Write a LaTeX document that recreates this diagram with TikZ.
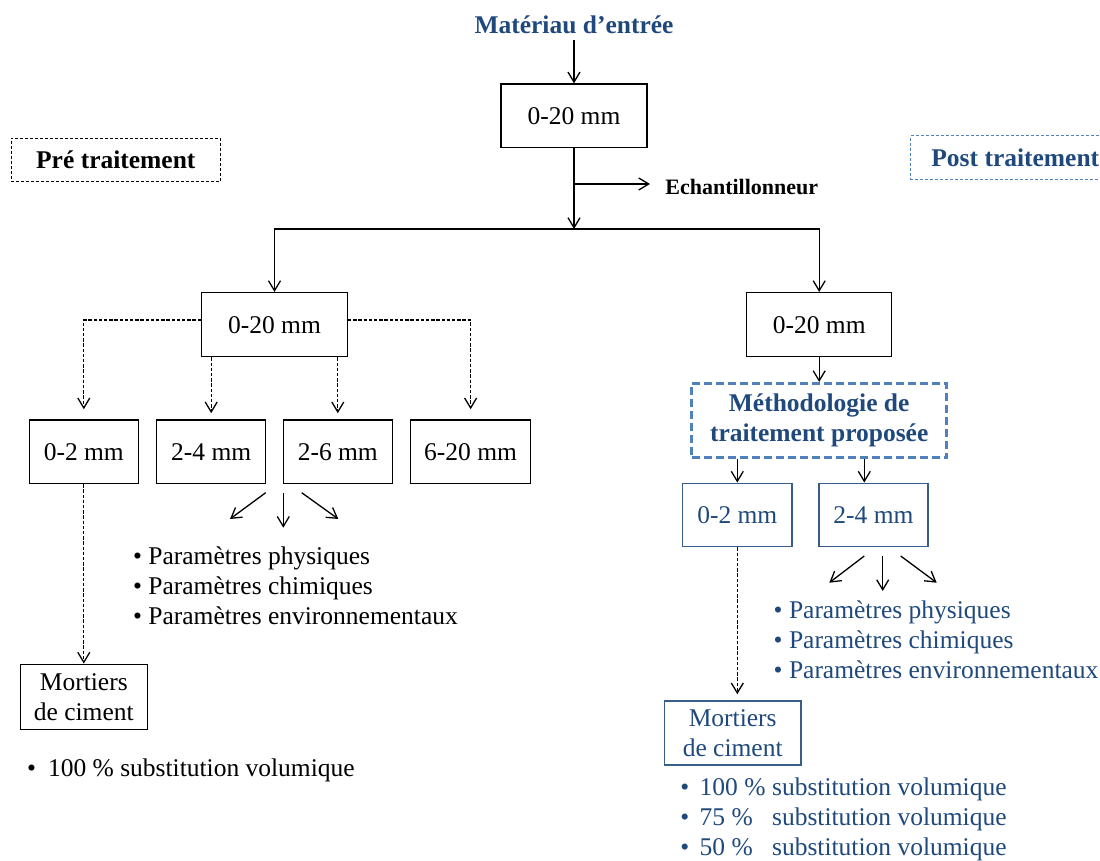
\documentclass[tikz,border=0pt]{standalone}
\usepackage{fontspec}
\setmainfont{Liberation Serif}
\usetikzlibrary{arrows.meta}

\definecolor{inkblue}{RGB}{31,73,125}
\definecolor{dashblue}{RGB}{79,129,189}
\definecolor{frameblue}{RGB}{56,93,138}

\begin{document}
\begin{tikzpicture}[
    x=0.5pt, y=-0.5pt,
    every node/.style={font=\fontsize{12.75}{15}\selectfont},
    sizebox/.style={draw, line width=.75pt, align=center, inner sep=0pt, minimum height=31.7pt},
    bluebox/.style={sizebox, draw=frameblue, text=inkblue},
    tagbox/.style={draw, line width=.5pt, dash pattern=on 1.5pt off 1pt, inner sep=0pt,
        minimum width=104.6pt, minimum height=21.7pt, font=\bfseries\fontsize{12.75}{15}\selectfont},
    methbox/.style={draw=dashblue, line width=1.3pt, dash pattern=on 4pt off 2pt, align=center,
        inner sep=0pt, minimum width=127.5pt, minimum height=37.2pt, text=inkblue,
        font=\bfseries\fontsize{12.75}{15}\selectfont},
    bullets/.style={anchor=north west, align=left, inner sep=0pt},
    conn/.style={-{Straight Barb[length=5pt,width=6pt]}, line width=.65pt},
    dconn/.style={conn, dash pattern=on 1.7pt off .9pt}
    ]
    \useasboundingbox (0,0) rectangle (1100,861);
    \clip (0,0) rectangle (1100,861);

    % input and sampling
    \node [anchor=base, inner sep=3pt, text=inkblue, font=\bfseries\fontsize{12.75}{15}\selectfont] (mat) at (574,33.3) {Matériau d’entrée};
    \node [sizebox, minimum width=72.8pt] (top) at (574,115.8) {0-20 mm};
    \coordinate (tap) at (574,184);
    \coordinate (split) at (574,229);
    \node [anchor=west, inner xsep=7.5pt, inner ysep=0pt, font=\bfseries\fontsize{11}{13}\selectfont] (ech) at (650,186.6) {Echantillonneur};

    \node [tagbox] (pre) at (115.8,160) {Pré traitement};
    \node [tagbox, draw=dashblue, text=inkblue, minimum width=105pt] (post) at (1015.3,157.7) {Post traitement};

    \draw [conn] (mat) -- (top);
    \draw [conn] (top) -- (split);
    \draw [conn] (tap) -- (tap -| ech.west);

    % pre treatment branch
    \node [sizebox, minimum width=72.8pt, minimum height=32pt] (left) at (274.5,324.7) {0-20 mm};
    \node [sizebox, minimum width=54.5pt] (f02) at (83.8,451.7) {0-2 mm};
    \node [sizebox, minimum width=54.5pt] (f24) at (211.2,451.7) {2-4 mm};
    \node [sizebox, minimum width=54.5pt] (f26) at (337.8,451.7) {2-6 mm};
    \node [sizebox, minimum width=60pt] (f620) at (470.6,451.7) {6-20 mm};
    \node [sizebox, minimum width=63.5pt, minimum height=32.5pt] (mleft) at (83.8,696.8) {Mortiers\\de ciment};
    \node [bullets] (lpar) at (132.7,546) {• Paramètres physiques\\• Paramètres chimiques\\• Paramètres environnementaux};
    \node [bullets] (lsub) at (26.7,758) {•\hspace{6pt}100 \% substitution volumique};

    \draw [conn] (split) -| (left);
    \draw [dconn, shorten >=5pt] ([yshift=2.3pt]left.west) -| (f02);
    \draw [dconn, shorten >=5pt] ([yshift=2.3pt]left.east) -| (f620);
    \draw [dconn, shorten >=3pt] (left.south -| f24) -- (f24);
    \draw [dconn, shorten >=3pt] (left.south -| f26) -- (f26);
    \draw [dconn] (f02) -- (mleft);

    \coordinate (lfa) at (265.7,492.7);
    \coordinate (lfb) at (283.3,492.7);
    \coordinate (lfc) at (301.7,492.7);
    \coordinate (lta) at (230,519);
    \coordinate (ltb) at (283.3,527.7);
    \coordinate (ltc) at (338.3,519);
    \draw [conn] (lfa) -- (lta);
    \draw [conn] (lfb) -- (ltb);
    \draw [conn] (lfc) -- (ltc);

    % post treatment branch
    \node [sizebox, minimum width=72.5pt, minimum height=32pt] (right) at (819.2,324.7) {0-20 mm};
    \node [methbox] (meth) at (819.2,420.5) {Méthodologie de\\traitement proposée};
    \node [bluebox, minimum width=54.7pt] (r02) at (737.3,515) {0-2 mm};
    \node [bluebox, minimum width=54.5pt] (r24) at (873.5,515) {2-4 mm};
    \node [bluebox, minimum width=68.3pt, minimum height=32pt] (mright) at (732.7,733) {Mortiers\\de ciment};
    \node [bullets, text=inkblue] (rpar) at (773.3,600) {• Paramètres physiques\\• Paramètres chimiques\\• Paramètres environnementaux};
    \node [bullets, text=inkblue] (rsub) at (680,777.7) {%
        •\hspace{5.2pt}\makebox[36.2pt][l]{100 \%}substitution volumique\\
        •\hspace{5.2pt}\makebox[36.2pt][l]{75 \%}substitution volumique\\
        •\hspace{5.2pt}\makebox[36.2pt][l]{50 \%}substitution volumique};

    \coordinate (r24in) at ([xshift=-4.6pt]r24.north);
    \draw [conn] (split) -| (right);
    \draw [conn] (right) -- (meth);
    \draw [conn] (meth.south -| r02) -- (r02);
    \draw [conn] (meth.south -| r24in) -- (r24in);
    \draw [dconn, shorten >=3pt] (r02.south) -- (r02.south |- mright.north);

    \coordinate (rfa) at (864.3,556);
    \coordinate (rfb) at (882.7,556);
    \coordinate (rfc) at (900.7,556);
    \coordinate (rta) at (829.3,582.7);
    \coordinate (rtb) at (882.7,591);
    \coordinate (rtc) at (936.7,582.7);
    \draw [conn] (rfa) -- (rta);
    \draw [conn] (rfb) -- (rtb);
    \draw [conn] (rfc) -- (rtc);
\end{tikzpicture}
\end{document}
